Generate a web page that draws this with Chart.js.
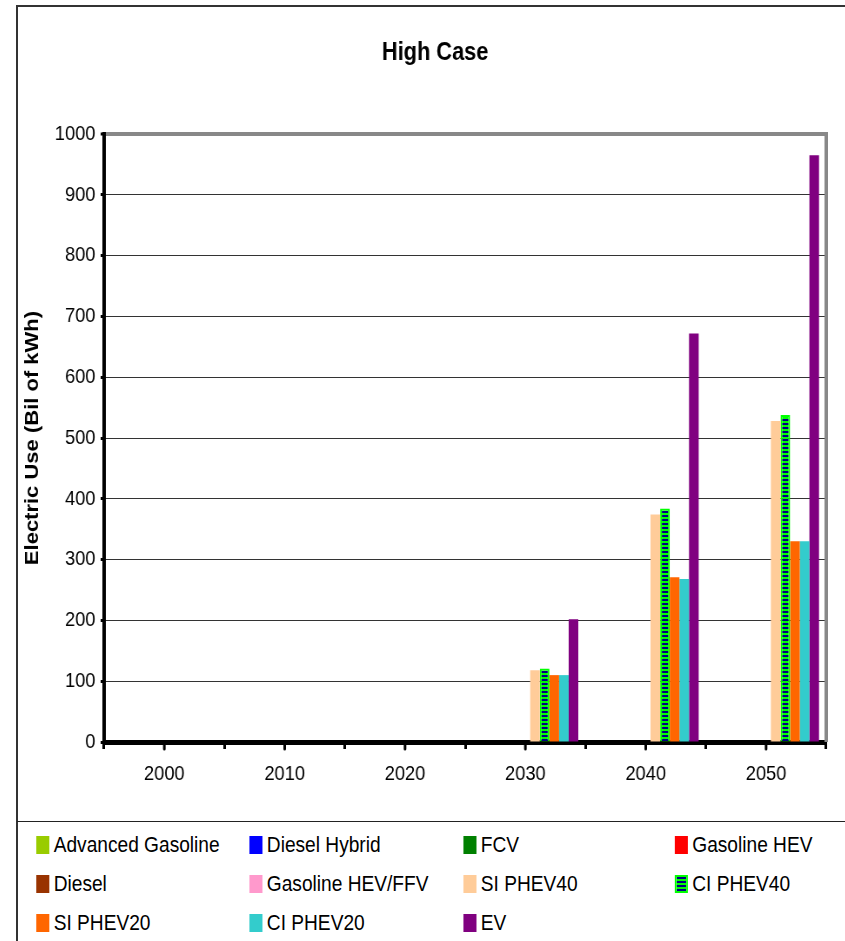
<!DOCTYPE html>
<html>
<head>
<meta charset="utf-8">
<script src="https://cdn.jsdelivr.net/npm/chart.js@4"></script>
<style>
  html, body { margin: 0; padding: 0; background: #fff; width: 845px; height: 941px; overflow: hidden; }
  #frame { position: absolute; left: 16px; top: 5px; width: 900px; height: 1000px; border: 2px solid #333; }
  #sep { position: absolute; left: 17px; top: 821px; width: 840px; height: 0; border-top: 1px solid #222; }
  /* the original picture is squeezed sideways, so draw wide and scale down */
  #chart { position: absolute; left: 18px; top: 7px; transform: scaleX(0.87); transform-origin: 0 0; }
  #legend { position: absolute; left: 18px; top: 822px; width: 950px; height: 118px;
            transform: scaleX(0.87); transform-origin: 0 0; font-family: "Liberation Sans", Arial, sans-serif; }
  .item { position: absolute; display: flex; align-items: center; font-size: 22px; color: #000; white-space: nowrap; height: 26px; }
  .box { width: 15px; height: 18px; margin-right: 5px; box-sizing: border-box; }
</style>
</head>
<body>
<div id="frame"></div>
<div id="sep"></div>
<canvas id="chart" width="950" height="814"></canvas>
<div id="legend"></div>
<script>
const years = ["2000", "2010", "2020", "2030", "2040", "2050"];

const seriesNames = [
  "Advanced Gasoline", "Diesel Hybrid", "FCV", "Gasoline HEV",
  "Diesel", "Gasoline HEV/FFV", "SI PHEV40", "CI PHEV40",
  "SI PHEV20", "CI PHEV20", "EV",
];

const seriesColors = [
  "#99cc00", "#0000ff", "#008000", "#ff0000",
  "#993300", "#ff99cc", "#ffcc99", "pattern",
  "#ff6600", "#33cccc", "#800080",
];

// Bil of kWh per year
const advancedGasoline = [0, 0, 0, 0, 0, 0];
const dieselHybrid     = [0, 0, 0, 0, 0, 0];
const fcv              = [0, 0, 0, 0, 0, 0];
const gasolineHEV      = [0, 0, 0, 0, 0, 0];
const diesel           = [0, 0, 0, 0, 0, 0];
const gasolineHEVFFV   = [0, 0, 0, 0, 0, 0];
const siPHEV40         = [0, 0, 0, 118, 374, 528];
const ciPHEV40         = [0, 0, 0, 121, 384, 538];
const siPHEV20         = [0, 0, 0, 110, 271, 330];
const ciPHEV20         = [0, 0, 0, 110, 268, 330];
const ev               = [0, 0, 0, 202, 672, 965];

const seriesValues = [
  advancedGasoline, dieselHybrid, fcv, gasolineHEV,
  diesel, gasolineHEVFFV, siPHEV40, ciPHEV40,
  siPHEV20, ciPHEV20, ev,
];

const yTicks = [0, 100, 200, 300, 400, 500, 600, 700, 800, 900, 1000];

// navy / green striped fill for CI PHEV40
function makeStripes() {
  const c = document.createElement("canvas");
  c.width = 4;
  c.height = 4;
  const g = c.getContext("2d");
  g.fillStyle = "#00ff00";
  g.fillRect(0, 0, 4, 4);
  g.fillStyle = "#000080";
  g.fillRect(0, 0, 4, 2);
  return g.createPattern(c, "repeat");
}

const stripes = makeStripes();

const datasets = seriesNames.map((name, i) => {
  const isPattern = seriesColors[i] === "pattern";
  return {
    label: name,
    data: seriesValues[i],
    backgroundColor: isPattern ? stripes : seriesColors[i],
    borderColor: isPattern ? "#00ff00" : seriesColors[i],
    borderWidth: isPattern ? 2 : 0,
  };
});

const frameLines = {
  id: "frameLines",
  afterDraw(chart) {
    const ctx = chart.ctx;
    const area = chart.chartArea;
    const x = chart.scales.x;
    ctx.save();
    // grey right edge of plot
    ctx.strokeStyle = "#888";
    ctx.lineWidth = 4;
    ctx.beginPath();
    ctx.moveTo(area.right, area.top - 2);
    ctx.lineTo(area.right, area.bottom);
    ctx.stroke();
    // tick marks under each category centre
    ctx.strokeStyle = "#000";
    ctx.lineWidth = 3;
    ctx.lineCap = "round";
    for (let i = 0; i < years.length; i++) {
      const px = x.getPixelForTick(i);
      ctx.beginPath();
      ctx.moveTo(px, area.bottom);
      ctx.lineTo(px, area.bottom + 7);
      ctx.stroke();
    }
    ctx.restore();
  },
};

const chart = new Chart(document.getElementById("chart"), {
  type: "bar",
  data: { labels: years, datasets: datasets },
  options: {
    responsive: false,
    animation: false,
    devicePixelRatio: 1,
    layout: { padding: { left: 30, right: 21, top: 0, bottom: 0 } },
    datasets: {
      bar: { categoryPercentage: 0.88, barPercentage: 1.0 },
    },
    plugins: {
      legend: { display: false },
      tooltip: { enabled: false },
      title: {
        display: true,
        text: "High Case",
        color: "#000",
        font: { family: "Liberation Sans", size: 25, weight: "bold" },
        padding: { top: 31, bottom: 66 },
      },
    },
    scales: {
      x: {
        grid: {
          offset: true,
          drawOnChartArea: false,
          tickLength: 7,
          tickWidth: 3,
          tickColor: "#000",
        },
        border: { color: "#000", width: 5 },
        ticks: {
          color: "#000",
          padding: 13,
          maxRotation: 0,
          font: { family: "Liberation Sans", size: 21 },
        },
        afterFit(scale) { scale.height = 79; },
      },
      y: {
        min: 0,
        max: 1000,
        afterBuildTicks(scale) { scale.ticks = yTicks.map(v => ({ value: v })); },
        grid: {
          color: ctx => (ctx.tick && ctx.tick.value === 1000 ? "#888" : "#333"),
          lineWidth: ctx => (ctx.tick && ctx.tick.value === 1000 ? 4 : 1),
          tickLength: 4,
          tickWidth: 3,
          tickColor: "#000",
        },
        border: { color: "#000", width: 4 },
        ticks: {
          color: "#000",
          padding: 6,
          font: { family: "Liberation Sans", size: 21 },
          callback: v => String(v),
        },
        title: {
          display: true,
          text: "Electric Use (Bil of kWh)",
          color: "#000",
          font: { family: "Liberation Sans", size: 22, weight: "bold" },
          padding: { top: -26, bottom: 0 },
        },
        afterFit(scale) { scale.width = 69; },
      },
    },
  },
  plugins: [frameLines],
});

// legend in four fixed columns, built from the datasets
const legendEl = document.getElementById("legend");
const colX = [21, 266, 512, 755];
const rowY = [10, 49, 88];
chart.data.datasets.forEach((ds, i) => {
  const item = document.createElement("div");
  item.className = "item";
  item.style.left = colX[i % 4] + "px";
  item.style.top = rowY[Math.floor(i / 4)] + "px";
  const box = document.createElement("span");
  box.className = "box";
  if (seriesColors[i] === "pattern") {
    box.style.background = "repeating-linear-gradient(to bottom, #000080 0 2px, #00ff00 2px 4px)";
    box.style.border = "2px solid #00ff00";
  } else {
    box.style.background = seriesColors[i];
  }
  const text = document.createElement("span");
  text.textContent = ds.label;
  item.appendChild(box);
  item.appendChild(text);
  legendEl.appendChild(item);
});
</script>
</body>
</html>
